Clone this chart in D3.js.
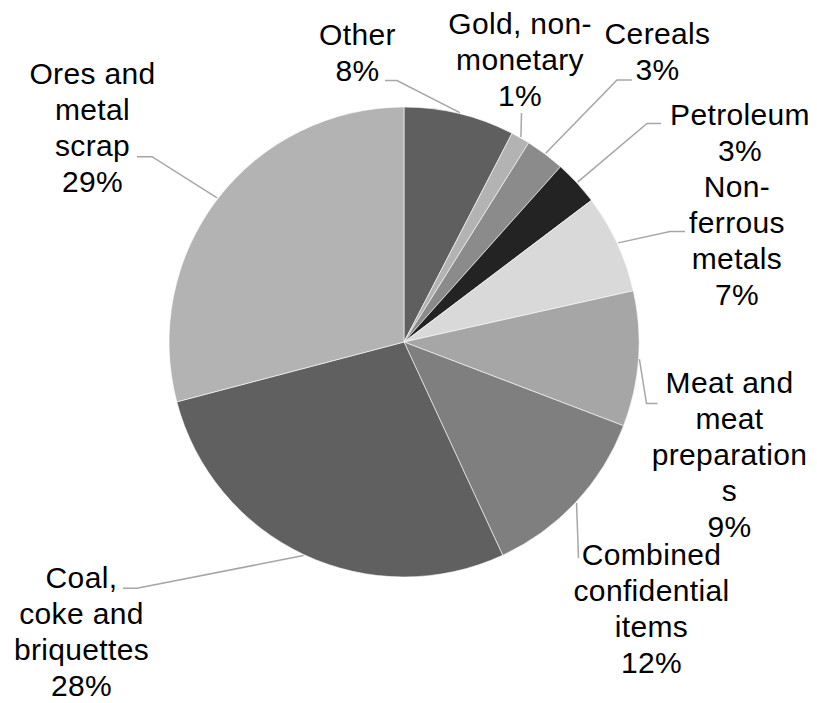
<!DOCTYPE html>
<html>
<head>
<meta charset="utf-8">
<script src="https://cdn.jsdelivr.net/npm/d3@7/dist/d3.min.js"></script>
<style>
  html, body { margin: 0; padding: 0; background: #fff; }
  svg { display: block; }
  text { font-family: "Liberation Sans", Arial, sans-serif; }
</style>
</head>
<body>
<svg id="chart" width="817" height="703"></svg>
<script>
// ---- Data ----
const categories = [
  "Other",
  "Gold, non-\nmonetary",
  "Cereals",
  "Petroleum",
  "Non-\nferrous\nmetals",
  "Meat and\nmeat\npreparation\ns",
  "Combined\nconfidential\nitems",
  "Coal,\ncoke and\nbriquettes",
  "Ores and\nmetal\nscrap"
];
const values = [7.6, 1.3, 2.7, 3.1, 6.8, 9.3, 12.3, 27.8, 29.1];
const percentLabels = ["8%", "1%", "3%", "3%", "7%", "9%", "12%", "28%", "29%"];
const colors = ["#5f5f5f", "#b3b3b3", "#8b8b8b", "#232323", "#d9d9d9", "#a6a6a6", "#7f7f7f", "#606060", "#b3b3b3"];

// ---- Layout (label placement, leader elbows) ----
const labelLayout = [
  { x: 357.5, y: 45,    elbow: [397, 80.5],  end: [385, 80.5] },
  { x: 520,   y: 33.5,  elbow: null,          end: [521.5, 113] },
  { x: 657.5, y: 43.5,  elbow: [617, 80],    end: [632, 80] },
  { x: 740,   y: 125,   elbow: [647, 123.5], end: [661, 123.5] },
  { x: 737,   y: 196.5, elbow: [670, 231.5], end: [685, 231.5] },
  { x: 729.5, y: 392.5, elbow: [646.5, 403.5], end: [657.5, 403.5] },
  { x: 651.5, y: 565,   elbow: null,          end: [578.5, 558] },
  { x: 81.5,  y: 588,   elbow: [137, 588.3], end: [123, 588.3] },
  { x: 92.5,  y: 84,    elbow: [152, 156.7], end: [137, 156.7] }
];

const W = 817, H = 703;
const cx = 404, cy = 342, R = 235;
const fontSize = 30, lineH = 36.1;

const svg = d3.select("#chart");
const g = svg.append("g").attr("transform", `translate(${cx},${cy})`);

const pie = d3.pie().sort(null).value(d => d.value).startAngle(0).endAngle(2 * Math.PI);
const data = categories.map((c, i) => ({ name: c, value: values[i], pct: percentLabels[i], color: colors[i], layout: labelLayout[i] }));
const arcs = pie(data);

const arc = d3.arc().innerRadius(0).outerRadius(R);
const edgeArc = d3.arc().innerRadius(R + 1).outerRadius(R + 1);

g.selectAll("path.slice")
  .data(arcs)
  .join("path")
  .attr("class", "slice")
  .attr("d", arc)
  .attr("fill", d => d.data.color)
  .attr("stroke", "#ffffff")
  .attr("stroke-width", 0.6);

// leader lines
const lineGen = d3.line();
svg.selectAll("path.leader")
  .data(arcs)
  .join("path")
  .attr("class", "leader")
  .attr("d", d => {
    const c = edgeArc.centroid(d);
    const p0 = [cx + c[0], cy + c[1]];
    const L = d.data.layout;
    const pts = L.elbow ? [p0, L.elbow, L.end] : [p0, L.end];
    return lineGen(pts);
  })
  .attr("fill", "none")
  .attr("stroke", "#a6a6a6")
  .attr("stroke-width", 1.5);

// labels
const labels = svg.selectAll("text.label")
  .data(arcs)
  .join("text")
  .attr("class", "label")
  .attr("text-anchor", "middle")
  .attr("font-size", fontSize)
  .attr("letter-spacing", "0.35px")
  .attr("fill", "#000");

labels.each(function(d) {
  const lines = d.data.name.split("\n").concat([d.data.pct]);
  const t = d3.select(this);
  lines.forEach((ln, i) => {
    t.append("tspan")
      .attr("x", d.data.layout.x)
      .attr("y", d.data.layout.y + i * lineH)
      .text(ln);
  });
});
</script>
</body>
</html>
